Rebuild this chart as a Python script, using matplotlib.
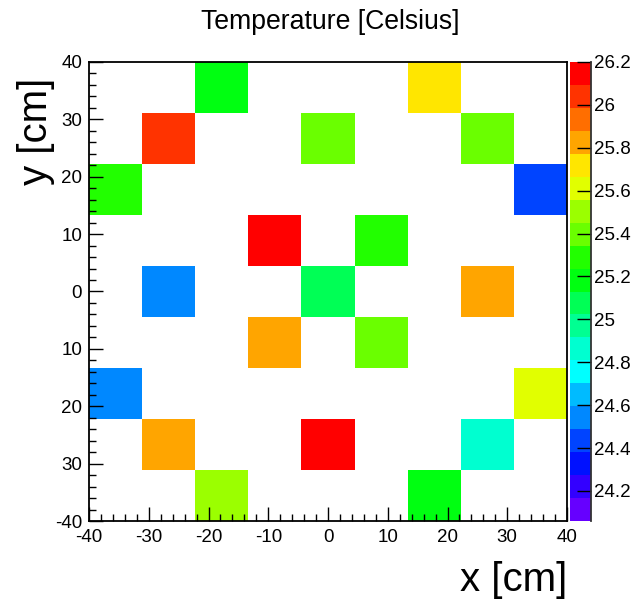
import numpy as np
import matplotlib
matplotlib.use("Agg")
import matplotlib.pyplot as plt
from matplotlib.colors import ListedColormap, Normalize
from matplotlib.ticker import FixedLocator, MultipleLocator, FuncFormatter

plt.rcParams['font.family'] = ['Liberation Sans', 'DejaVu Sans']

# ---- data ----
nan = np.nan
x_min, x_max, n_bins = -40, 40, 9
# rows listed from top (y=+40) to bottom (y=-40)
temperature_rows = [
    [nan,   nan,   25.18, nan,   nan,   nan,   25.72, nan,   nan],
    [nan,   26.04, nan,   nan,   25.40, nan,   nan,   25.40, nan],
    [25.29, nan,   nan,   nan,   nan,   nan,   nan,   nan,   24.43],
    [nan,   nan,   nan,   26.15, nan,   25.29, nan,   nan,   nan],
    [nan,   24.54, nan,   nan,   25.08, nan,   nan,   25.83, nan],
    [nan,   nan,   nan,   25.83, nan,   25.40, nan,   nan,   nan],
    [24.54, nan,   nan,   nan,   nan,   nan,   nan,   nan,   25.61],
    [nan,   25.83, nan,   nan,   26.15, nan,   nan,   24.86, nan],
    [nan,   nan,   25.50, nan,   nan,   nan,   25.18, nan,   nan],
]
z_min, z_max = 24.06, 26.2
x_ticks = [-40, -30, -20, -10, 0, 10, 20, 30, 40]
x_tick_labels = ["-40", "-30", "-20", "-10", "0", "10", "20", "30", "40"]
y_ticks = [40, 30, 20, 10, 0, -10, -20, -30, -40]
y_tick_labels = ["40", "30", "20", "10", "0", "10", "20", "30", "-40"]
z_ticks = [24.2, 24.4, 24.6, 24.8, 25.0, 25.2, 25.4, 25.6, 25.8, 26.0, 26.2]
palette_top_to_bottom = ['#FF0000', '#FF3300', '#FF6E00', '#FFA500', '#FFE600',
                         '#E1FF00', '#9BFF00', '#6AFF00', '#22FF00', '#00FF11',
                         '#00FF55', '#00FF92', '#00FFD0', '#00FFFF', '#00BBFF',
                         '#0088FF', '#0044FF', '#0011FF', '#3300FF', '#6600FF']
title = "Temperature [Celsius]"
x_label = "x [cm]"
y_label = "y [cm]"

# ---- figure ----
W, H = 635, 602
fig = plt.figure(figsize=(W / 100, H / 100), dpi=100)
fig.patch.set_facecolor('white')

def frac(l, t, r, b):
    return [l / W, 1 - b / H, (r - l) / W, (b - t) / H]

ax = fig.add_axes(frac(89, 62, 567, 521))
cax = fig.add_axes(frac(570, 62, 591, 521))

cmap = ListedColormap(palette_top_to_bottom[::-1])
norm = Normalize(vmin=z_min, vmax=z_max)
edges = np.linspace(x_min, x_max, n_bins + 1)
Z = np.array(temperature_rows)[::-1]  # bottom-to-top for pcolormesh
Zm = np.ma.masked_invalid(Z)
mesh = ax.pcolormesh(edges, edges, Zm, cmap=cmap, norm=norm, shading='flat')

ax.set_xlim(x_min, x_max)
ax.set_ylim(x_min, x_max)
ax.xaxis.set_major_locator(FixedLocator(x_ticks))
ax.set_xticklabels(x_tick_labels)
ax.yaxis.set_major_locator(FixedLocator(y_ticks))
ax.set_yticklabels(y_tick_labels)
ax.xaxis.set_minor_locator(MultipleLocator(2))
ax.yaxis.set_minor_locator(MultipleLocator(2))
ax.tick_params(which='both', direction='in', top=False, right=False, color='black', width=1)
ax.tick_params(which='major', length=10, labelsize=13.5)
ax.tick_params(axis='x', which='major', pad=6)
ax.tick_params(axis='y', which='major', pad=5)
ax.tick_params(which='minor', length=5)
for s in ax.spines.values():
    s.set_linewidth(1.3)
    s.set_color('black')

cb = fig.colorbar(mesh, cax=cax)
cb.outline.set_visible(False)
cb.set_ticks(z_ticks)
cb.ax.yaxis.set_major_formatter(FuncFormatter(lambda v, p: "%g" % round(v, 1)))
cb.ax.minorticks_off()
cb.ax.tick_params(direction='in', length=10, width=1, labelsize=13.5, pad=2, color='black')
cax.axvline(1.0, color='#333333', lw=1.3, clip_on=False)

fig.text(330 / W, 1 - 22 / H, title, ha='center', va='center', fontsize=19.2)
fig.text(567 / W, 1 - 580 / H, x_label, ha='right', va='center', fontsize=29)
fig.text(36 / W, 1 - 78 / H, y_label, ha='center', va='top', rotation=90, fontsize=29)

fig.savefig('out.png', dpi=100, facecolor='white')
